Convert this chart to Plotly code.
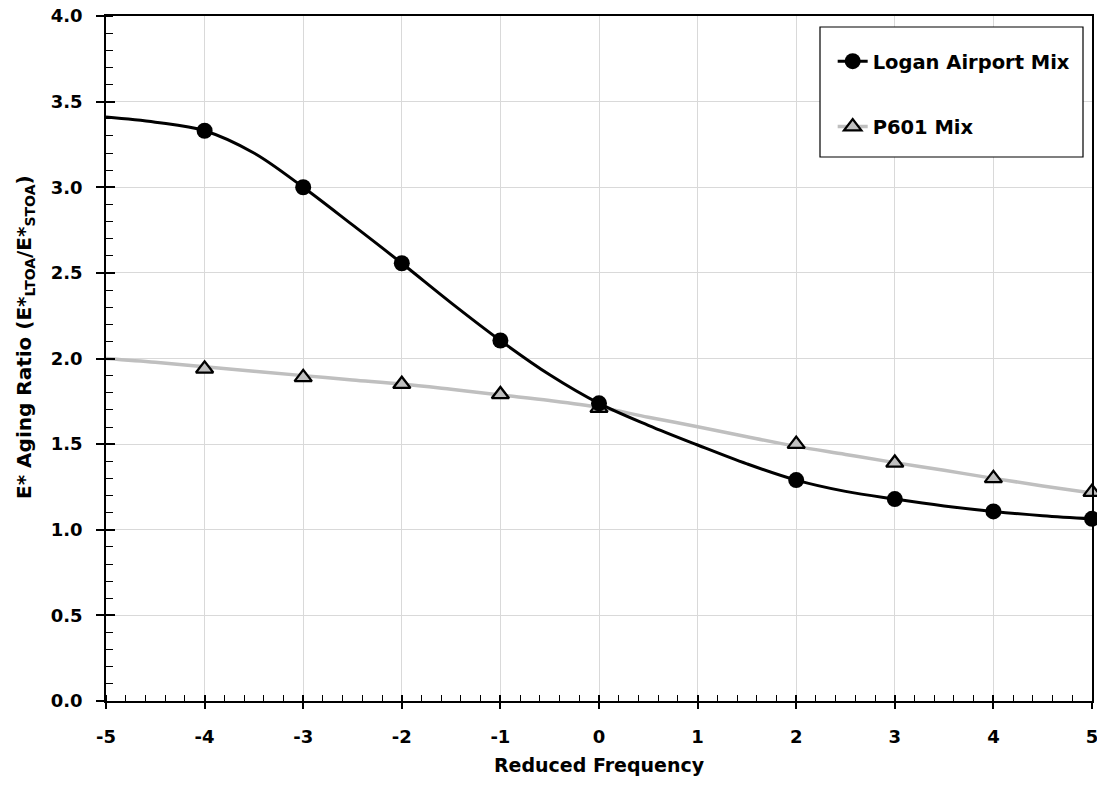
import plotly.graph_objects as go

# Measured points (markers)
x_logan = [-4, -3, -2, -1, 0, 2, 3, 4, 5]
y_logan = [3.33, 3.00, 2.556, 2.105, 1.738, 1.29, 1.179, 1.107, 1.064]

x_p601 = [-4, -3, -2, -1, 0, 2, 3, 4, 5]
y_p601 = [1.94, 1.89, 1.85, 1.79, 1.71, 1.50, 1.39, 1.30, 1.22]

# Smooth fitted curves
x_curve = [-5, -4.5, -4, -3.5, -3, -2.5, -2, -1.5, -1, -0.5, 0, 0.5, 1, 1.5, 2, 2.5, 3, 3.5, 4, 4.5, 5]
y_logan_curve = [3.41, 3.38, 3.33, 3.20, 3.00, 2.78, 2.556, 2.325, 2.105, 1.905, 1.738,
                 1.61, 1.495, 1.385, 1.29, 1.224, 1.179, 1.139, 1.107, 1.082, 1.064]
y_p601_curve = [2.00, 1.978, 1.952, 1.925, 1.90, 1.875, 1.851, 1.82, 1.787, 1.755, 1.715,
                1.657, 1.602, 1.543, 1.487, 1.440, 1.392, 1.347, 1.30, 1.256, 1.215]

x_ticks = [-5, -4, -3, -2, -1, 0, 1, 2, 3, 4, 5]
y_ticks = [0.0, 0.5, 1.0, 1.5, 2.0, 2.5, 3.0, 3.5, 4.0]

FONT = "DejaVu Sans"
BLACK = "#000000"
GRAY = "#BFBFBF"

W, H = 1097, 788
ML, MR, MT, MB = 106, 5, 16, 87
PW, PH = W - ML - MR, H - MT - MB

fig = go.Figure()

fig.add_trace(go.Scatter(x=x_curve, y=y_p601_curve, mode="lines", line=dict(color=GRAY, width=3.5, shape="spline"),
                         showlegend=False, hoverinfo="skip"))
fig.add_trace(go.Scatter(x=x_curve, y=y_logan_curve, mode="lines", line=dict(color=BLACK, width=3, shape="spline"),
                         showlegend=False, hoverinfo="skip"))
fig.add_trace(go.Scatter(x=x_p601, y=y_p601, mode="markers",
                         marker=dict(symbol="triangle-up", size=15, color=GRAY, line=dict(color=BLACK, width=2.3)),
                         showlegend=False, cliponaxis=False))
fig.add_trace(go.Scatter(x=x_logan, y=y_logan, mode="markers",
                         marker=dict(symbol="circle", size=16, color=BLACK, line=dict(color=BLACK, width=0)),
                         showlegend=False, cliponaxis=False))

# legend entries
fig.add_trace(go.Scatter(x=[None], y=[None], mode="lines+markers", name="<b>Logan Airport Mix</b>",
                         line=dict(color=BLACK, width=3),
                         marker=dict(symbol="circle", size=16, color=BLACK), legendgroup="a"))
fig.add_trace(go.Scatter(x=[None], y=[None], mode="lines+markers", name="<b>P601 Mix</b>",
                         line=dict(color=GRAY, width=3.5),
                         marker=dict(symbol="triangle-up", size=15, color=GRAY, line=dict(color=BLACK, width=2.3)),
                         legendgroup="b"))

axis_common = dict(showline=True, linecolor=BLACK, linewidth=1.5, mirror=True,
                   gridcolor="#D9D9D9", gridwidth=1.3, zeroline=False, automargin=False,
                   tickfont=dict(family=FONT, size=18, color=BLACK), ticklabeloverflow="allow",
                   ticks="outside", tickcolor=BLACK, tickwidth=1.5)

fig.update_layout(
    width=W, height=H,
    margin=dict(l=ML, r=MR, t=MT, b=MB),
    paper_bgcolor="white", plot_bgcolor="white",
    font=dict(family=FONT, color=BLACK),
    xaxis=dict(**axis_common, range=[-5, 5], tickvals=x_ticks,
               ticktext=[f"<b>{v}</b>" for v in x_ticks], ticklen=6, ticklabelstandoff=13,
               minor=dict(ticks="inside", ticklen=6, dtick=0.2, tick0=0, tickcolor=BLACK, tickwidth=1.2, showgrid=False),
               title=dict(text="<b>Reduced Frequency</b>", font=dict(family=FONT, size=19, color=BLACK), standoff=12)),
    yaxis=dict(**axis_common, range=[0, 4], tickvals=y_ticks,
               ticktext=[f"<b>{v:.1f}</b>" for v in y_ticks], ticklen=8, ticklabelstandoff=10,
               minor=dict(ticks="inside", ticklen=7, dtick=0.1, tick0=0, tickcolor=BLACK, tickwidth=1.2, showgrid=False)),
    xaxis2=dict(overlaying="x", anchor="y", side="bottom", range=[-5, 5], tickvals=x_ticks,
                showticklabels=False, showgrid=False, zeroline=False, showline=False, automargin=False,
                ticks="inside", ticklen=6, tickcolor=BLACK, tickwidth=1.5),
    yaxis2=dict(overlaying="y", anchor="x", side="left", range=[0, 4], tickvals=y_ticks,
                showticklabels=False, showgrid=False, zeroline=False, showline=False, automargin=False,
                ticks="inside", ticklen=9, tickcolor=BLACK, tickwidth=1.5),
    legend=dict(x=0.737, y=0.962, xanchor="left", yanchor="top",
                bgcolor="rgba(0,0,0,0)", borderwidth=0,
                font=dict(family=FONT, size=19.5, color=BLACK),
                traceorder="grouped", tracegroupgap=37, itemwidth=30),
    shapes=[dict(type="rect", xref="paper", yref="paper",
                 x0=(820 - ML) / PW, x1=(1083 - ML) / PW,
                 y0=(H - MB - 157) / PH, y1=(H - MB - 27) / PH,
                 line=dict(color=BLACK, width=1.2), fillcolor="white", layer="above")],
    annotations=[dict(text="<b>E* Aging Ratio (E*<sub>LTOA</sub>/E*<sub>STOA</sub>)</b>",
                      xref="paper", yref="paper", x=(25 - ML) / PW, y=(H - MB - 337) / PH,
                      xanchor="center", yanchor="middle", textangle=-90, showarrow=False,
                      font=dict(family=FONT, size=20, color=BLACK))],
)

# invisible trace to activate overlay axes
fig.add_trace(go.Scatter(x=[None], y=[None], xaxis="x2", yaxis="y2", showlegend=False, hoverinfo="skip"))

fig.write_html("out.html", config={"displayModeBar": False},
               post_script="document.body.style.margin='0px';")
